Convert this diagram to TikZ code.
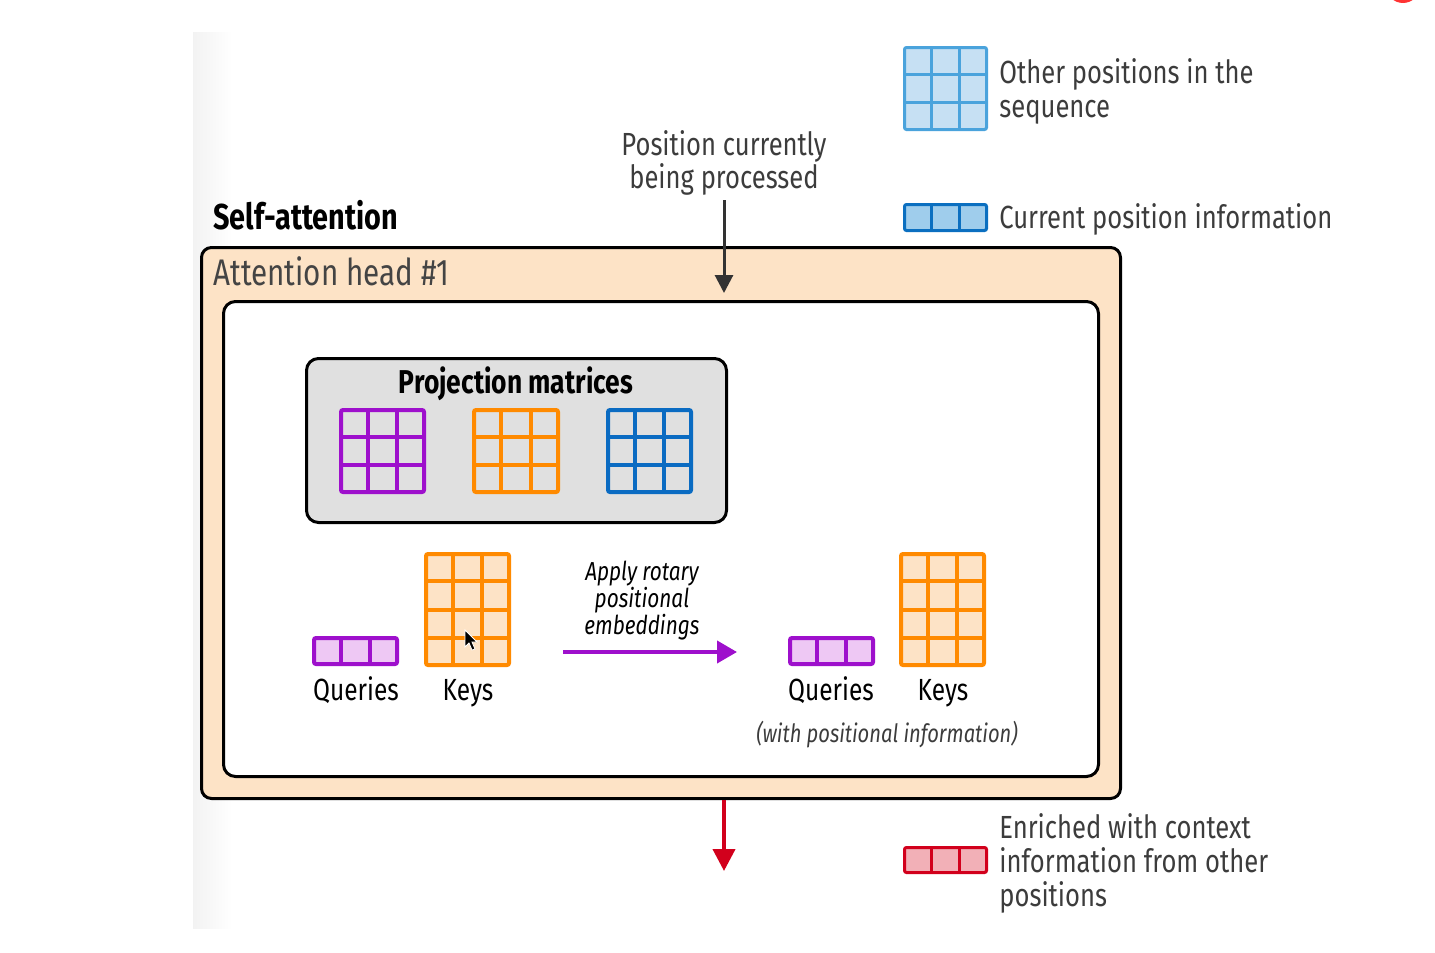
\documentclass[tikz,border=0pt]{standalone}
\usepackage{fontspec}
\setmainfont{Fira Sans}[FakeStretch=0.8]
\usetikzlibrary{arrows.meta,calc,fit}
\definecolor{cpurple}{HTML}{9E10CC}
\definecolor{corange}{HTML}{FF8A00}
\definecolor{cblue}{HTML}{0A6BC2}
\definecolor{peach}{HTML}{FDE3C6}
\definecolor{lpurple}{HTML}{EEC8F4}
\definecolor{cgray}{HTML}{E0E0E0}
\definecolor{lblue}{HTML}{C6E0F3}
\definecolor{lbluestroke}{HTML}{4AA3DC}
\definecolor{mblue}{HTML}{9FCDEC}
\definecolor{mbluestroke}{HTML}{0B6FC0}
\definecolor{cred}{HTML}{D2001C}
\definecolor{lred}{HTML}{F2B0B7}
\definecolor{txtgray}{HTML}{3C3C3C}
\definecolor{headgray}{HTML}{444444}
\definecolor{arrgray}{HTML}{333333}
\tikzset{
  gridline/.style={line width=2pt},
  thingrid/.style={line width=1.5pt},
  panel/.style={draw=black, line width=1.5pt},
  legtext/.style={anchor=base west, inner sep=0pt, align=left, text=txtgray, font=\fontsize{16}{17}\selectfont},
  lbl/.style={anchor=base, inner sep=0pt, font=\fontsize{15.3}{17}\selectfont},
}
% name, x1, y1, x2, y2, cols, rows, stroke, fill  (line style set by \gridstyle)
\newcommand\gridstyle{gridline}
\newcommand\gridbox[9]{%
  \node[fit={(#2,#3)(#4,#5)}, inner sep=0pt, draw=#8, fill=#9, \gridstyle, rounded corners=1pt] (#1) {};
  \foreach \i in {1,...,#6} {\ifnum\i<#6 \draw[#8, \gridstyle] ($(#1.north west)!\i/#6!(#1.north east)$) -- ($(#1.south west)!\i/#6!(#1.south east)$);\fi}
  \foreach \j in {1,...,#7} {\ifnum\j<#7 \draw[#8, \gridstyle] ($(#1.north west)!\j/#7!(#1.south west)$) -- ($(#1.north east)!\j/#7!(#1.south east)$);\fi}
}
\begin{document}
\begin{tikzpicture}[x=0.5pt, y=-0.5pt]
\useasboundingbox (0,0) rectangle (1435,953);
% faint screenshot strip and corner artefact
\shade[left color=black!5, right color=white] (193,32) rectangle (232,928);
\fill[red!80!white] (1403,-14) circle (17);

% legend
\renewcommand\gridstyle{thingrid}
\gridbox{legother}{904.5}{47.5}{986.5}{129.5}{3}{3}{lbluestroke}{lblue}
\gridbox{legcur}{904.5}{204.5}{986.5}{230.5}{3}{1}{mbluestroke}{mblue}
\gridbox{legred}{904.5}{847.5}{986.5}{872.5}{3}{1}{cred}{lred}
% base anchor of a multi-line node = baseline of its last line
\node[legtext] (tother) at (999,117) {Other positions in the\\sequence};
\node[legtext] (tcur) at (999,228) {Current position information};
\node[legtext] (tred) at (999,906) {Enriched with context\\information from other\\positions};

% titles
\node[anchor=base west, inner sep=0pt, font=\bfseries\fontsize{18}{20}\selectfont] (selfatt) at (213,229) {Self-attention};
\node[anchor=base, inner sep=0pt, align=center, text=txtgray, font=\fontsize{16}{16.5}\selectfont] (pos) at (724,188) {Position currently\\being processed};

% panels
\node[fit={(201.5,247.5)(1120.5,798.5)}, inner sep=0pt, panel, fill=peach, rounded corners=5pt] (head) {};
\node[anchor=base west, inner sep=0pt, text=headgray, font=\fontsize{18.5}{20}\selectfont] (headlbl) at (213,285) {Attention head \#1};
\node[fit={(223.5,301.5)(1098.5,776.5)}, inner sep=0pt, panel, fill=white, rounded corners=6pt] (inner) {};
\node[fit={(306.5,358.5)(726.5,522.5)}, inner sep=0pt, panel, fill=cgray, rounded corners=6pt] (proj) {};
\node[anchor=base, inner sep=0pt, font=\bfseries\fontsize{16.5}{17}\selectfont] (projlbl) at (516,393) {Projection matrices};

% matrices
\renewcommand\gridstyle{gridline}
\gridbox{pmq}{341}{410}{424}{492}{3}{3}{cpurple}{cgray}
\gridbox{pmk}{474}{410}{558}{492}{3}{3}{corange}{cgray}
\gridbox{pmv}{608}{410}{691}{492}{3}{3}{cblue}{cgray}

\gridbox{ql}{314}{638}{397}{664}{3}{1}{cpurple}{lpurple}
\gridbox{kl}{426}{554}{509}{665}{3}{4}{corange}{peach}
\gridbox{qr}{790}{638}{873}{664}{3}{1}{cpurple}{lpurple}
\gridbox{kr}{901}{554}{984}{665}{3}{4}{corange}{peach}

\node[lbl] (qllbl) at (356,700) {Queries};
\node[lbl] (kllbl) at (468,700) {Keys};
\node[lbl] (qrlbl) at (831,700) {Queries};
\node[lbl] (krlbl) at (943,700) {Keys};
\node[anchor=base, inner sep=0pt, text=txtgray, font=\itshape\fontsize{12.6}{14}\selectfont] (withpos) at (887,742) {(with positional information)};
\node[anchor=base, inner sep=0pt, align=center, font=\itshape\fontsize{13}{13.5}\selectfont] (rope) at (642,634) {Apply rotary\\positional\\embeddings};

% cursor
\filldraw[fill=black, draw=white, line width=0.4pt] (465,630) -- (465,647) -- (469,643) -- (472,650) -- (475,649) -- (472,642) -- (477,642) -- cycle;

% connectors
\coordinate (ropestart) at (563,652);
\coordinate (ropeend) at (737,652);
\draw[cpurple, line width=2pt, -{Triangle[width=11pt,length=10pt]}] (ropestart) -- (ropeend);
\coordinate (intip) at (724,293);
\draw[arrgray, line width=1.5pt, -{Triangle[width=9pt,length=9pt]}] (pos.south |- 0,200) -- (intip);
\coordinate (outtip) at (724,871);
\draw[cred, line width=2pt, -{Triangle[width=11pt,length=11pt]}] (head.south -| outtip) -- (outtip);
\end{tikzpicture}
\end{document}
